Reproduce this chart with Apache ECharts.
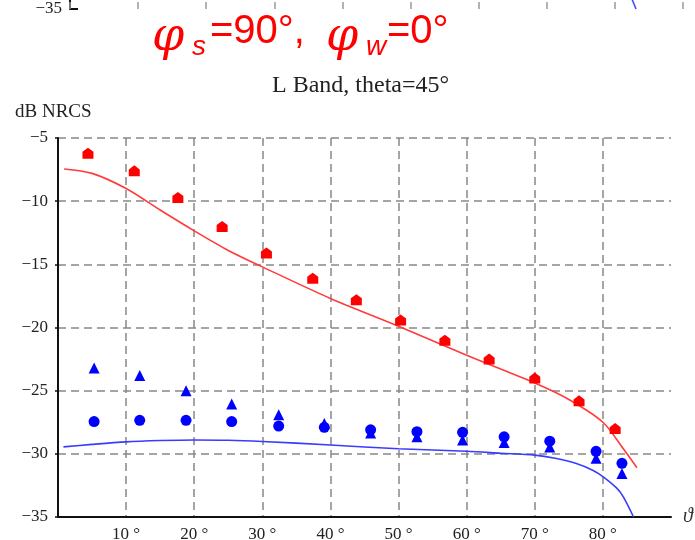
<!DOCTYPE html>
<html><head><meta charset="utf-8">
<script src="https://cdn.jsdelivr.net/npm/echarts@6/dist/echarts.min.js"></script>
<style>html,body{margin:0;padding:0;background:#fff}#c{width:695px;height:540px}</style>
</head><body><div id="c"></div>
<script>
// ---- data ----
const redPtX   = [4.4, 11.2, 17.6, 24.1, 30.6, 37.4, 43.8, 50.3, 56.8, 63.3, 70.0, 76.5, 81.8];
const redPtY   = [-6.2, -7.6, -9.7, -12.0, -14.1, -16.1, -17.8, -19.4, -21.0, -22.5, -24.0, -25.8, -28.0];
const bluePtX  = [5.3, 12.0, 18.8, 25.5, 32.4, 39.1, 45.9, 52.7, 59.4, 65.5, 72.2, 79.0, 82.8];
const blueCircY = [-27.45, -27.35, -27.35, -27.45, -27.8, -27.9, -28.1, -28.25, -28.3, -28.65, -29.0, -29.8, -30.75];
const blueTriY  = [-23.2, -23.8, -25.0, -26.05, -26.9, -27.6, -28.35, -28.65, -28.9, -29.1, -29.45, -30.35, -31.55];
const redCurveX = [0.9, 5, 10, 15, 20, 25, 30, 40, 50, 60, 70, 75, 80, 83, 85];
const redCurveY = [-7.45, -7.8, -9.0, -10.7, -12.35, -13.9, -15.2, -17.7, -19.9, -22.2, -24.4, -25.7, -27.5, -29.6, -31.1];
const blueCurveX = [0.8, 5, 10, 15, 20, 25, 30, 40, 50, 60, 65, 70, 73, 76, 78.5, 80, 82, 83, 84.5];
const blueCurveY = [-29.45, -29.25, -29.05, -28.95, -28.9, -28.92, -29.02, -29.3, -29.6, -29.8, -29.95, -30.1, -30.35, -30.75, -31.3, -31.8, -32.7, -33.4, -35];
// remnant of the chart above (cut off at top)
const prevTailX = [82.2, 83.1];
const prevTailY = [-33.8, -35];
const xTicks = [10, 20, 30, 40, 50, 60, 70, 80];

const zip = (xs, ys) => xs.map((x, i) => [x, ys[i]]);
const serif = 'Liberation Serif';
const minus = v => String(v).replace('-', '\u2212');

const chart = echarts.init(document.getElementById('c'));
const housePath = 'path://M0,-1 L1,-0.25 L1,1 L-1,1 L-1,-0.25 Z';

chart.setOption({
  animation: false,
  backgroundColor: '#fff',
  grid: [
    {left: 58, right: 24, top: 138, bottom: 23, containLabel: false, outerBoundsMode: 'none'},
    {left: 70, width: 613, top: -370, height: 379, containLabel: false, outerBoundsMode: 'none'}
  ],
  xAxis: [{
    type: 'value', min: 0, max: 90, interval: 10, gridIndex: 0,
    name: '\u03d1', nameLocation: 'end', nameGap: 12,
    nameTextStyle: {fontFamily: serif, fontStyle: 'italic', fontSize: 20, color: '#333', verticalAlign: 'middle'},
    axisLine: {show: true, onZero: false, lineStyle: {color: '#111', width: 2}},
    axisTick: {show: false},
    axisLabel: {margin: 9, fontFamily: serif, fontSize: 17, color: '#222',
      formatter: v => xTicks.includes(v) ? v + ' \u00b0' : ''},
    splitLine: {show: true, showMinLine: false, showMaxLine: false,
      lineStyle: {color: '#888', type: [8, 5], width: 1.5}}
  }, {
    type: 'value', min: 0, max: 90, interval: 10, gridIndex: 1,
    axisLine: {show: false},
    axisTick: {show: true, inside: true, length: 7, lineStyle: {color: '#999', width: 1.5}},
    axisLabel: {show: false},
    splitLine: {show: false}
  }],
  yAxis: [{
    type: 'value', min: -35, max: -5, interval: 5, gridIndex: 0,
    axisLine: {show: true, onZero: false, lineStyle: {color: '#111', width: 2}},
    axisTick: {show: true, length: 3, lineStyle: {color: '#111', width: 1.5}},
    axisLabel: {margin: 10, fontFamily: serif, fontSize: 17, color: '#222', formatter: minus},
    splitLine: {show: true, showMinLine: false, showMaxLine: true,
      lineStyle: {color: '#888', type: [8, 5], width: 1.5}}
  }, {
    type: 'value', min: -35, max: -5, interval: 5, gridIndex: 1,
    axisLine: {show: true, onZero: false, lineStyle: {color: '#111', width: 2}},
    axisTick: {show: true, inside: true, length: 8, lineStyle: {color: '#111', width: 2}},
    axisLabel: {margin: 8, fontFamily: serif, fontSize: 17, color: '#222', formatter: minus},
    splitLine: {show: false}
  }],
  series: [
    {type: 'line', data: zip(redCurveX, redCurveY), smooth: 0.3, showSymbol: false,
      lineStyle: {color: '#ff3b3b', width: 1.6}, z: 2},
    {type: 'line', data: zip(blueCurveX, blueCurveY), smooth: 0.3, showSymbol: false,
      lineStyle: {color: '#3b3bff', width: 1.6}, z: 2},
    {type: 'scatter', data: zip(redPtX, redPtY), symbol: housePath, symbolSize: [11, 11],
      itemStyle: {color: '#ff0000', opacity: 1}, z: 3},
    {type: 'scatter', data: zip(bluePtX, blueTriY), symbol: 'triangle', symbolSize: [11, 11],
      itemStyle: {color: '#0000ff', opacity: 1}, z: 3},
    {type: 'scatter', data: zip(bluePtX, blueCircY), symbol: 'circle', symbolSize: 11,
      itemStyle: {color: '#0000ff', opacity: 1}, z: 4},
    {type: 'line', xAxisIndex: 1, yAxisIndex: 1, data: zip(prevTailX, prevTailY), showSymbol: false,
      lineStyle: {color: '#4b4bff', width: 1.6}}
  ],
  graphic: [
    {type: 'text', left: 152, top: 15, style: {text: '\u03c6', font: 'italic 46px "DejaVu Serif"', fill: '#ff0000'}},
    {type: 'text', left: 192, top: 33, style: {text: 's', font: 'italic 28px "Liberation Sans"', fill: '#ff0000'}},
    {type: 'text', left: 210, top: 12, style: {text: '=90\u00b0,', font: '40px "Liberation Sans"', fill: '#ff0000'}},
    {type: 'text', left: 326, top: 15, style: {text: '\u03c6', font: 'italic 46px "DejaVu Serif"', fill: '#ff0000'}},
    {type: 'text', left: 366, top: 33, style: {text: 'w', font: 'italic 28px "Liberation Sans"', fill: '#ff0000'}},
    {type: 'text', left: 387, top: 12, style: {text: '=0\u00b0', font: '40px "Liberation Sans"', fill: '#ff0000'}},
    {type: 'text', left: 272, top: 74, style: {text: 'L Band, theta=45\u00b0', font: '24px "Liberation Serif"', fill: '#222'}},
    {type: 'text', left: 15, top: 103, style: {text: 'dB NRCS', font: '19px "Liberation Serif"', fill: '#222'}}
  ]
});
</script>
</body></html>
